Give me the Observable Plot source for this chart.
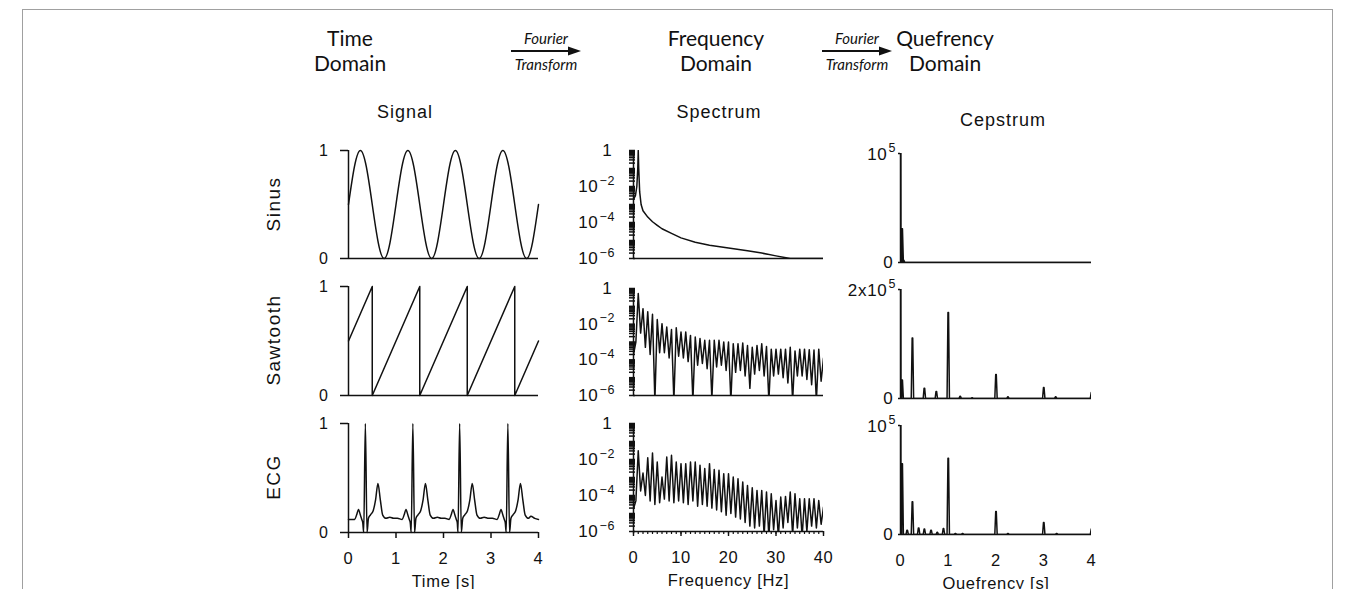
<!DOCTYPE html>
<html><head><meta charset="utf-8">
<script src="https://cdn.jsdelivr.net/npm/d3@7"></script>
<script src="https://cdn.jsdelivr.net/npm/@observablehq/plot@0.6"></script>
<style>
html,body{margin:0;padding:0;background:#fff;}
body{width:1354px;height:589px;overflow:hidden;position:relative;font-family:"Liberation Sans",Arial,sans-serif;color:#111;}
#frame{position:absolute;left:22px;top:9px;width:1311px;height:640px;border:1px solid #a0a0a0;box-sizing:border-box;}
.hdr{position:absolute;font-family:Lato,"Open Sans",sans-serif;font-size:21px;line-height:25px;text-align:center;transform:translateX(-50%);white-space:nowrap;}
.ft{position:absolute;font-family:Lato,"Open Sans",sans-serif;font-style:italic;font-size:15px;line-height:16px;text-align:center;transform:translateX(-50%);white-space:nowrap;}
.ft svg{display:block;margin:0 auto;}
.ttl{position:absolute;font-size:18px;letter-spacing:1px;transform:translate(-50%,-50%);white-space:nowrap;}
.row{position:absolute;font-size:19px;letter-spacing:1.5px;transform:translate(-50%,-50%) rotate(-90deg);white-space:nowrap;}
</style></head>
<body>
<div id="frame"></div>
<div class="hdr" style="left:350px;top:25px">Time<br>Domain</div>
<div class="ft" style="left:546px;top:30px">Fourier<svg width="72" height="10"><line x1="1" y1="5" x2="60" y2="5" stroke="#111" stroke-width="2"/><polygon points="58,0.5 71,5 58,9.5" fill="#111"/></svg>Transform</div>
<div class="hdr" style="left:716px;top:25px">Frequency<br>Domain</div>
<div class="ft" style="left:857px;top:30px">Fourier<svg width="72" height="10"><line x1="1" y1="5" x2="60" y2="5" stroke="#111" stroke-width="2"/><polygon points="58,0.5 71,5 58,9.5" fill="#111"/></svg>Transform</div>
<div class="hdr" style="left:945px;top:25px">Quefrency<br>Domain</div>
<div class="ttl" style="left:405px;top:112px">Signal</div>
<div class="ttl" style="left:719px;top:112px">Spectrum</div>
<div class="ttl" style="left:1003px;top:120px">Cepstrum</div>
<div class="row" style="left:274px;top:204px">Sinus</div>
<div class="row" style="left:274px;top:340px">Sawtooth</div>
<div class="row" style="left:274px;top:477px">ECG</div>
<script>
// ---------------- DATA ----------------
// Signal: sinus
const sineT = [0,0.125,0.25,0.375,0.5,0.625,0.75,0.875,1,1.125,1.25,1.375,1.5,1.625,1.75,1.875,2,2.125,2.25,2.375,2.5,2.625,2.75,2.875,3,3.125,3.25,3.375,3.5,3.625,3.75,3.875,4];
const sineV = [0.5,0.85,1,0.85,0.5,0.15,0,0.15,0.5,0.85,1,0.85,0.5,0.15,0,0.15,0.5,0.85,1,0.85,0.5,0.15,0,0.15,0.5,0.85,1,0.85,0.5,0.15,0,0.15,0.5];
// Signal: sawtooth
const sawT = [0,0.5,0.5,1.5,1.5,2.5,2.5,3.5,3.5,4];
const sawV = [0.5,1,0,1,0,1,0,1,0,0.5];
// Signal: ECG
const ecgT = [
  0,0.13,0.17,0.21,0.25,0.28,0.30,0.32,0.355,0.39,0.42,0.46,0.52,0.57,0.62,0.67,0.72,0.79,0.87,0.95,
  1.03,1.13,1.17,1.21,1.25,1.28,1.30,1.32,1.355,1.39,1.42,1.46,1.52,1.57,1.62,1.67,1.72,1.79,1.87,1.95,
  2.03,2.12,2.16,2.20,2.24,2.27,2.29,2.305,2.34,2.375,2.405,2.445,2.505,2.555,2.605,2.655,2.705,2.775,2.855,2.95,
  3.03,3.13,3.17,3.21,3.25,3.28,3.30,3.32,3.355,3.39,3.42,3.46,3.52,3.57,3.62,3.67,3.72,3.79,3.84,3.92,4.0];
const ecgV = [
  0.12,0.12,0.16,0.21,0.16,0.12,0.09,0,1,0,0.13,0.16,0.20,0.30,0.45,0.30,0.16,0.13,0.14,0.13,
  0.13,0.12,0.16,0.21,0.16,0.12,0.09,0,1,0,0.13,0.16,0.20,0.30,0.45,0.30,0.16,0.13,0.14,0.13,
  0.13,0.12,0.16,0.21,0.16,0.12,0.09,0,1,0,0.13,0.16,0.20,0.30,0.45,0.30,0.16,0.13,0.14,0.13,
  0.13,0.12,0.16,0.21,0.16,0.12,0.09,0,1,0,0.13,0.16,0.20,0.30,0.45,0.30,0.16,0.13,0.15,0.13,0.12];

// Spectrum: sinus (frequency Hz, power)
const specSinF = [0,0.4,0.7,0.9,1.0,1.1,1.3,1.6,2,3,4,5,6,8,10,13,16,20,24,27,30,33,40];
const specSinV = [2e-3,3e-3,1e-2,0.1,1,0.1,5e-3,1e-3,4.5e-4,2e-4,1.1e-4,7e-5,4.5e-5,2.5e-5,1.4e-5,8e-6,5.5e-6,3.8e-6,2.7e-6,2e-6,1.4e-6,1e-6,1e-6];
// Spectrum: sawtooth, log10 power of harmonic peaks (1..40 Hz) and of the valleys (0.5..39.5 Hz)
const sawSpecStart = -3.7;
const sawPeakExp = [-0.28,-1.13,-1.31,-1.45,-1.74,-1.97,-2.16,-2.3,-2.2,-2.44,-2.44,-2.63,-2.72,-2.81,-2.9,-2.9,-2.9,-2.9,-3.0,-3.0,
  -3.1,-3.1,-3.06,-3.2,-3.3,-3.2,-3.1,-3.25,-3.4,-3.4,-3.4,-3.4,-3.3,-3.5,-3.4,-3.4,-3.43,-3.45,-3.4,-3.9];
const sawValleyExp = [-3.0,-2.5,-3.3,-3.7,-6.3,-3.6,-3.6,-3.9,-6.3,-3.8,-3.9,-4.1,-6.3,-4.3,-4.2,-4.5,-6.2,-4.4,-4.3,-4.6,
  -6.3,-4.7,-4.6,-4.9,-5.6,-4.8,-4.6,-4.9,-6.3,-4.9,-4.8,-5.0,-5.3,-6.3,-4.9,-4.9,-5.1,-5.4,-6.3,-5.2];
// Spectrum: ECG
const ecgSpecStart = -4.74;
const ecgPeakExp = [-1.52,-2.75,-1.9,-1.64,-2.14,-2.97,-1.86,-1.77,-2.14,-2.23,-2.23,-2.14,-2.14,-2.32,-2.5,-2.23,-2.56,-2.6,-2.79,-2.79,
  -2.97,-3.07,-3.25,-3.44,-3.57,-3.72,-3.72,-3.81,-3.9,-4.28,-4.09,-4.05,-3.81,-3.9,-4.18,-4.18,-4.18,-4.18,-4.28,-4.65];
const ecgValleyExp = [-4.3,-3.75,-4.0,-4.3,-4.5,-4.4,-4.2,-4.3,-4.4,-4.3,-4.4,-4.5,-4.3,-4.6,-4.5,-4.6,-4.7,-4.8,-4.9,-5.1,
  -5.0,-5.2,-5.3,-5.5,-5.7,-5.8,-5.7,-6.2,-6.3,-5.9,-6.3,-5.8,-5.5,-6.2,-5.8,-6.3,-6.0,-5.7,-5.8,-5.6];

// Cepstrum peaks (quefrency s, amplitude)
const cepSinQ = [0,0.035,0.065];
const cepSinH = [1.15e5,0.31e5,0.02e5];
const cepSawQ = [0,0.035,0.25,0.5,0.75,1,1.25,1.5,2,2.25,3,3.25,4];
const cepSawH = [2.3e5,0.34e5,1.11e5,0.19e5,0.13e5,1.58e5,0.04e5,0.015e5,0.44e5,0.03e5,0.2e5,0.03e5,0.11e5];
const cepEcgQ = [0,0.035,0.14,0.25,0.38,0.5,0.64,0.77,0.9,1,1.15,1.3,2,2.25,3,3.27,4];
const cepEcgH = [1.2e5,0.65e5,0.04e5,0.3e5,0.06e5,0.05e5,0.04e5,0.02e5,0.055e5,0.7e5,0.01e5,0.01e5,0.21e5,0.01e5,0.11e5,0.01e5,0.05e5];

// Axis ticks and labels
const timeTicks = [0,1,2,3,4];
const signalYTicks = [0,1];
const freqTicks = [0,10,20,30,40];
const freqMinorTicks = d3.range(0,41);
const specTicks = [1,1e-2,1e-4,1e-6];
const specBase = ["1","10","10","10"];
const specExp = ["","\u22122","\u22124","\u22126"];
const quefTicks = [0,1,2,3,4];
const cepTop = [1e5,2e5,1e5];
const cepBase = ["10","2x10","10"];
const cepExp = "5";

// ---------------- TABLES ----------------
const zip = (xs, ys, kx, ky) => xs.map((x, i) => ({[kx]: x, [ky]: ys[i]}));
const sinus = zip(sineT, sineV, "t", "v");
const saw = zip(sawT, sawV, "t", "v");
const ecg = zip(ecgT, ecgV, "t", "v");
const specSin = zip(specSinF, specSinV, "f", "v");
function comb(start, peaks, valleys) {
  const out = [{f: 0, v: 10 ** start}];
  peaks.forEach((p, i) => {
    out.push({f: i + 0.5, v: 10 ** valleys[i]});
    out.push({f: i + 1, v: 10 ** p});
  });
  return out;
}
const specSaw = comb(sawSpecStart, sawPeakExp, sawValleyExp);
const specEcg = comb(ecgSpecStart, ecgPeakExp, ecgValleyExp);
function peaks(qs, hs, endQ) {
  const w = 0.025, t = 0.006, out = [];
  qs.forEach((q, i) => {
    out.push({q: q - w, v: 0}, {q: q - t, v: hs[i]}, {q: q + t, v: hs[i]}, {q: q + w, v: 0});
  });
  if (endQ != null) out.push({q: endQ, v: 0});
  return out.sort((a, b) => a.q - b.q);
}
const cepSin = peaks(cepSinQ, cepSinH, 4);
const cepSaw = peaks(cepSawQ, cepSawH);
const cepEcg = peaks(cepEcgQ, cepEcgH);

// ---------------- LAYOUT ----------------
const ML = 95, MR = 25, MT = 12, MB = 62;
const INK = "#111";
const baseStyle = {fontFamily: '"Liberation Sans", Arial, sans-serif', fontSize: "16px", color: INK, background: "none", overflow: "visible", letterSpacing: "0.7px"};
function panel(left, top, w, h, x, y, marks) {
  const p = Plot.plot({width: ML + w + MR, height: MT + h + MB, marginLeft: ML, marginRight: MR, marginTop: MT, marginBottom: MB,
    x, y, marks, style: baseStyle});
  p.style.position = "absolute";
  p.style.left = (left - ML) + "px";
  p.style.top = (top - MT) + "px";
  document.body.appendChild(p);
}
const lineW = 1.5;

// Signal column
const sigRows = [[sinus, 150, 108, "natural"], [saw, 286, 109, "linear"], [ecg, 423, 109, "monotone-x"]];
sigRows.forEach(([data, top, h, curve], i) => {
  const last = i === 2;
  panel(348, top, 190, h,
    last ? {domain: [0, 4]} : {domain: [0, 4], axis: null},
    {domain: [0, 1]},
    [
      Plot.ruleX([0], {stroke: INK, strokeWidth: 1.5}),
      Plot.ruleY([0], {stroke: INK, strokeWidth: 1.5}),
      Plot.axisY({ticks: signalYTicks, tickSize: 8, tickPadding: 12, tickFormat: d => String(d), label: null, strokeWidth: 1.5}),
      ...(last ? [Plot.axisX({ticks: timeTicks, tickSize: 6, tickPadding: 14, tickFormat: d => String(d), label: "Time [s]", labelAnchor: "center", labelOffset: 54, labelArrow: "none", strokeWidth: 1.5, fontSize: 16.5})] : []),
      Plot.line(data, {x: "t", y: "v", curve, stroke: INK, strokeWidth: lineW})
    ]);
});

// Spectrum column
const specRows = [[specSin, 150, 108], [specSaw, 288, 107], [specEcg, 423, 108]];
const minorLog = d3.scaleLog().domain([1e-6, 1]).ticks();
const specIdx = specTicks.map((d, i) => i);
specRows.forEach(([data, top, h], i) => {
  const last = i === 2;
  panel(633, top, 190, h,
    last ? {domain: [0, 40]} : {domain: [0, 40], axis: null},
    {type: "log", domain: [1e-6, 1], axis: null},
    [
      Plot.ruleX([0], {stroke: INK, strokeWidth: 1.5}),
      Plot.ruleY([1e-6], {stroke: INK, strokeWidth: 1.5}),
      Plot.axisY({ticks: minorLog, tickSize: 6, dx: 2, tickFormat: () => "", label: null, strokeWidth: 1.5}),
      Plot.text(specIdx.filter(j => !specExp[j]), {y: j => specTicks[j], text: j => specBase[j], frameAnchor: "left", textAnchor: "end", dx: -21, fontSize: 17}),
      Plot.text(specIdx.filter(j => specExp[j]), {y: j => specTicks[j], text: j => specBase[j], frameAnchor: "left", textAnchor: "end", dx: -35, fontSize: 17}),
      Plot.text(specIdx.filter(j => specExp[j]), {y: j => specTicks[j], text: j => specExp[j], frameAnchor: "left", textAnchor: "start", dx: -34, dy: -6, fontSize: 12.5}),
      ...(last ? [
        Plot.axisX({ticks: freqMinorTicks, tickSize: 3, tickFormat: () => "", label: null, strokeWidth: 1.2}),
        Plot.axisX({ticks: freqTicks, tickSize: 5, tickPadding: 15, tickFormat: d => String(d), label: "Frequency [Hz]", labelAnchor: "center", labelOffset: 54, labelArrow: "none", strokeWidth: 1.4, fontSize: 16.5})
      ] : []),
      Plot.line(data, {x: "f", y: "v", stroke: INK, strokeWidth: lineW, clip: true})
    ]);
});

// Cepstrum column
const cepRows = [[cepSin, 153, 109], [cepSaw, 289, 109], [cepEcg, 425, 109]];
cepRows.forEach(([data, top, h], i) => {
  const last = i === 2;
  panel(900, top, 191, h,
    last ? {domain: [0, 4]} : {domain: [0, 4], axis: null},
    {domain: [0, cepTop[i]], axis: null},
    [
      Plot.ruleX([0], {stroke: INK, strokeWidth: 1.5}),
      Plot.ruleY([0], {stroke: INK, strokeWidth: 1.5}),
      Plot.axisY({ticks: [0, cepTop[i]], tickSize: 2, tickFormat: () => "", label: null, strokeWidth: 1.4}),
      Plot.text([0], {y: d => d, text: d => String(d), frameAnchor: "left", textAnchor: "end", dx: -7, fontSize: 17}),
      Plot.text([cepTop[i]], {y: d => d, text: () => cepBase[i], frameAnchor: "left", textAnchor: "end", dx: -13, dy: 1, fontSize: 17}),
      Plot.text([cepTop[i]], {y: d => d, text: () => cepExp, frameAnchor: "left", textAnchor: "start", dx: -12, dy: -6, fontSize: 12.5}),
      ...(last ? [Plot.axisX({ticks: quefTicks, tickSize: 0, tickPadding: 20, tickFormat: d => String(d), label: "Quefrency [s]", labelAnchor: "center", labelOffset: 54, labelArrow: "none", fontSize: 16.5})] : []),
      Plot.line(data, {x: "q", y: "v", stroke: INK, strokeWidth: lineW, clip: true})
    ]);
});
</script>
</body></html>
